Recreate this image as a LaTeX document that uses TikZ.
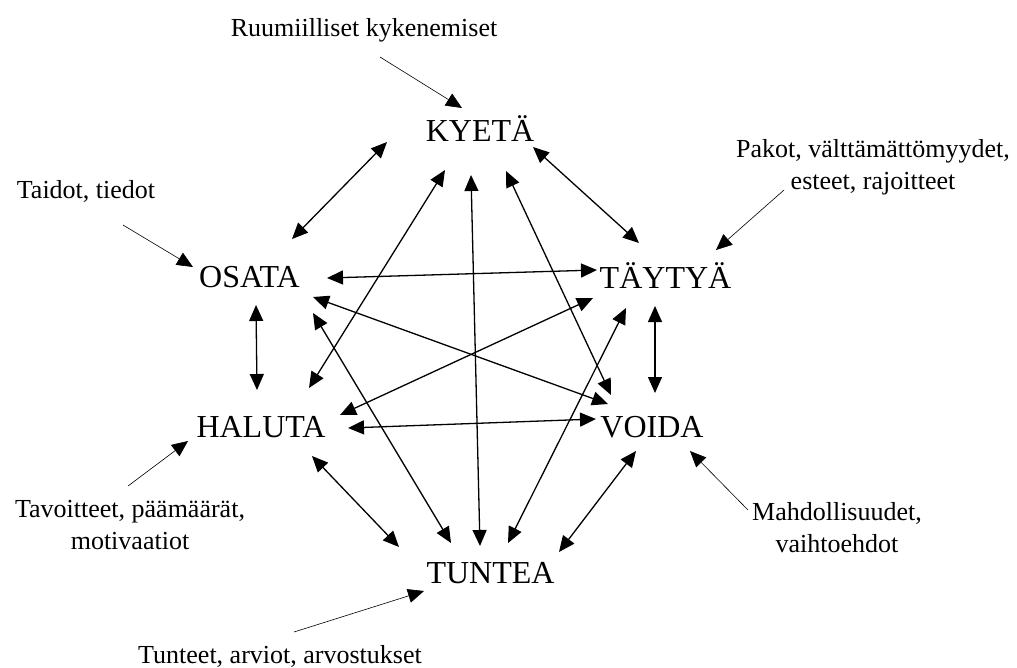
\documentclass[tikz,border=0pt]{standalone}
\usepackage{fontspec}
\setmainfont{Liberation Serif}
\usetikzlibrary{arrows.meta}

\tikzset{
  verb/.style={anchor=base, inner sep=0pt, font=\fontsize{32}{36}\selectfont},
  note/.style={anchor=base, inner sep=0pt, font=\fontsize{26}{32}\selectfont},
  head/.tip={Triangle[length=16pt,width=14pt]},
  link/.style={line width=1.3pt, head-head},
  pointer/.style={line width=0.6pt, -head},
}
\newcommand{\twolines}[2]{\begin{tabular}[t]{@{}c@{}}#1\\#2\end{tabular}}

\begin{document}
\begin{tikzpicture}[x=1pt, y=-1pt]
\useasboundingbox (0,0) rectangle (1017,667);

% the six verbs
\node[verb] (kyeta)  at (480,141)   {KYETÄ};
\node[verb] (osata)  at (249.5,287.5) {OSATA};
\node[verb] (taytya) at (665.5,288) {TÄYTYÄ};
\node[verb] (haluta) at (261,437)   {HALUTA};
\node[verb] (voida)  at (652,437)   {VOIDA};
\node[verb] (tuntea) at (490.5,583) {TUNTEA};

% explanatory notes
\node[note] (ruum)   at (364,36)  {Ruumiilliset kykenemiset};
\node[note] (taidot) at (86,198)  {Taidot, tiedot};
\node[note] (pakot)  at (873,157) {\twolines{Pakot, välttämättömyydet,}{esteet, rajoitteet}};
\node[note] (tavo)   at (130,517) {\twolines{Tavoitteet, päämäärät,}{motivaatiot}};
\node[note] (mahd)   at (837,520) {\twolines{Mahdollisuudet,}{vaihtoehdot}};
\node[note] (tunt)   at (280,663) {Tunteet, arviot, arvostukset};

% notes pointing at their verbs
\draw[pointer] ([shift={(16,21)}]ruum.base)    -- ([shift={(-18,-33)}]kyeta.base);
\draw[pointer] ([shift={(37,27)}]taidot.base)  -- ([shift={(-56.5,-20.5)}]osata.base);
\draw[pointer] ([shift={(-89,33)}]pakot.base)  -- ([shift={(50.5,-38)}]taytya.base);
\draw[pointer] ([shift={(-2,-31)}]tavo.base)   -- ([shift={(-73,4)}]haluta.base);
\draw[pointer] ([shift={(-89,-10)}]mahd.base)  -- ([shift={(38,14)}]voida.base);
\draw[pointer] ([shift={(14,-31)}]tunt.base)   -- ([shift={(-66.5,8)}]tuntea.base);

% mutual links between the verbs
\draw[link] ([shift={(-93,1)}]kyeta.base)   -- ([shift={(42.5,-48.5)}]osata.base);
\draw[link] ([shift={(53,6)}]kyeta.base)    -- ([shift={(-26.5,-45)}]taytya.base);
\draw[link] ([shift={(-35,29)}]kyeta.base)  -- ([shift={(48,-49)}]haluta.base);
\draw[link] ([shift={(-9,34)}]kyeta.base)   -- ([shift={(-10.5,-37)}]tuntea.base);
\draw[link] ([shift={(26,30)}]kyeta.base)   -- ([shift={(-41,-42)}]voida.base);

\draw[link] ([shift={(77.5,-9.5)}]osata.base) -- ([shift={(-68.5,-18)}]taytya.base);
\draw[link] ([shift={(6.5,17.5)}]osata.base)  -- ([shift={(-4,-47)}]haluta.base);
\draw[link] ([shift={(63.5,9.5)}]osata.base)  -- ([shift={(-44,-33)}]voida.base);
\draw[link] ([shift={(63.5,25.5)}]osata.base) -- ([shift={(-39.5,-40)}]tuntea.base);

\draw[link] ([shift={(-72.5,10)}]taytya.base) -- ([shift={(79,-22)}]haluta.base);
\draw[link] ([shift={(-10.5,18)}]taytya.base) -- ([shift={(3,-44)}]voida.base);
\draw[link] ([shift={(-39.5,20)}]taytya.base) -- ([shift={(17.5,-40)}]tuntea.base);

\draw[link] ([shift={(87,-9)}]haluta.base)    -- ([shift={(-56,-18)}]voida.base);
\draw[link] ([shift={(51,19)}]haluta.base)    -- ([shift={(-91.5,-36)}]tuntea.base);

\draw[link] ([shift={(-16,14)}]voida.base)    -- ([shift={(68.5,-31)}]tuntea.base);
\end{tikzpicture}
\end{document}
